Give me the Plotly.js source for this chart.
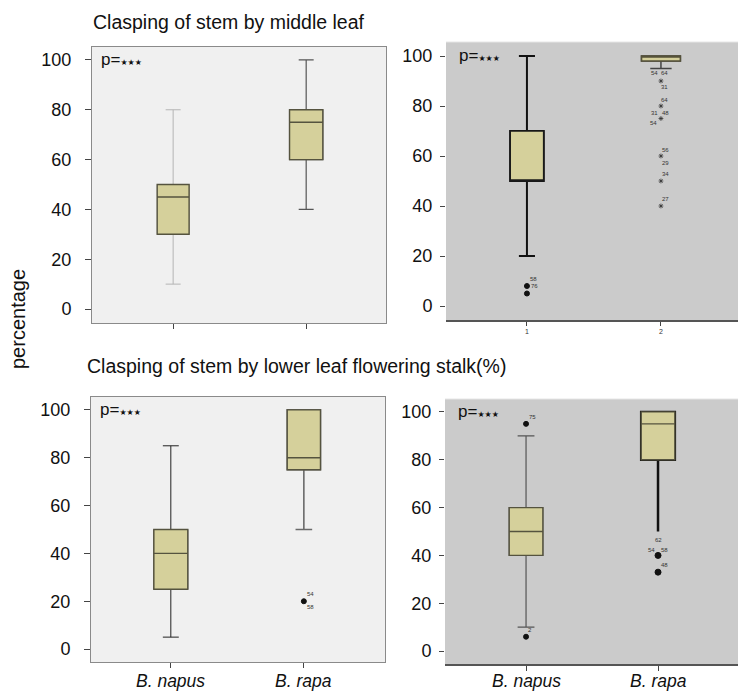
<!DOCTYPE html>
<html>
<head>
<meta charset="utf-8">
<script src="https://cdn.plot.ly/plotly-3.0.1.min.js"></script>
<style>html,body{margin:0;padding:0;background:#fff;}#chart{width:738px;height:691px;}</style>
</head>
<body>
<div id="chart"></div>
<script>
// ---------------- data ----------------
const categories = ['B. napus', 'B. rapa'];
const numericTicks = ['1', '2'];
const yTicks = [0, 20, 40, 60, 80, 100];
const titleTop = 'Clasping of stem by middle leaf';
const titleBottom = 'Clasping of stem by lower leaf flowering stalk(%)';
const yTitle = 'percentage';
const pText = 'p=';
const pStars = '★★★';

// top-left panel (per category)
const tlLower = [10, 40], tlQ1 = [30, 60], tlMedian = [45, 75], tlQ3 = [50, 80], tlUpper = [80, 100];
// top-right panel
const trLower = [20, 95], trQ1 = [50, 98], trMedian = [50, 100], trQ3 = [70, 100], trUpper = [100, 100];
const trOutCat1 = [8, 5];
const trOutCat2 = [90, 80, 75, 60, 50, 40];
// bottom-left panel
const blLower = [5, 50], blQ1 = [25, 75], blMedian = [40, 80], blQ3 = [50, 100], blUpper = [85, 100];
const blOutCat2 = [20];
// bottom-right panel
const brLower = [10, 50], brQ1 = [40, 80], brMedian = [50, 95], brQ3 = [60, 100], brUpper = [90, 100];
const brOutCat1 = [95, 6];
const brOutCat2 = [40, 33];

// outlier case labels: [panel, category index, value, text]
const caseLabels = [
  ['tr', 0, 8, '58'], ['tr', 0, 8, '76'],
  ['tr', 1, 90, '54'], ['tr', 1, 90, '64'], ['tr', 1, 90, '31'],
  ['tr', 1, 80, '64'], ['tr', 1, 80, '31'], ['tr', 1, 80, '48'],
  ['tr', 1, 75, '54'],
  ['tr', 1, 60, '56'], ['tr', 1, 60, '29'],
  ['tr', 1, 50, '34'], ['tr', 1, 40, '27'],
  ['bl', 1, 20, '54'], ['bl', 1, 20, '58'],
  ['br', 0, 95, '75'], ['br', 0, 6, '2'],
  ['br', 1, 40, '62'], ['br', 1, 40, '54'], ['br', 1, 40, '58'],
  ['br', 1, 33, '48']
];
// pixel offsets of each case label (style only)
const labelShift = [
  [7, 7], [8, 0],
  [-6, 8], [4, 8], [4, -6],
  [4, 6], [-6, -7], [5, -7],
  [-7, -5],
  [5, 6], [5, -7],
  [5, 7], [5, 7],
  [7, 7], [7, -6],
  [6, 7], [4, 7],
  [0, 15], [-7, 5], [6, 5],
  [6, 7]
];

// ---------------- style ----------------
const FONT = 'Liberation Sans, Arial, Helvetica, sans-serif';
const boxFill = '#d5d09b';
const boxLine = '#55533f';
const axesMap = { tl: ['x', 'y'], tr: ['x2', 'y2'], bl: ['x3', 'y3'], br: ['x4', 'y4'] };

const traces = [];
function addBox(panel, i, lo, q1, med, q3, hi, whiskColor, whiskW, capFrac, bw, boxLineColor, boxLineW) {
  const [xa, ya] = axesMap[panel];
  traces.push({
    type: 'box', xaxis: xa, yaxis: ya, x: [i],
    q1: [q1[i]], median: [med[i]], q3: [q3[i]], lowerfence: [lo[i]], upperfence: [hi[i]],
    width: bw, whiskerwidth: capFrac, boxpoints: false, fillcolor: 'rgba(0,0,0,0)',
    line: { color: whiskColor, width: whiskW }, hoverinfo: 'skip'
  });
  traces.push({
    type: 'box', xaxis: xa, yaxis: ya, x: [i],
    q1: [q1[i]], median: [med[i]], q3: [q3[i]], lowerfence: [q1[i]], upperfence: [q3[i]],
    width: bw, whiskerwidth: 0, boxpoints: false, fillcolor: boxFill,
    line: { color: boxLineColor || boxLine, width: boxLineW || 1.4 }, hoverinfo: 'skip'
  });
}

addBox('tl', 0, tlLower, tlQ1, tlMedian, tlQ3, tlUpper, '#b4b4b4', 1, 0.47, 0.24);
addBox('tl', 1, tlLower, tlQ1, tlMedian, tlQ3, tlUpper, '#555555', 1.2, 0.45, 0.25);
addBox('tr', 0, trLower, trQ1, trMedian, trQ3, trUpper, '#111111', 2, 0.48, 0.25, '#1a1a1a', 1.6);
addBox('tr', 1, trLower, trQ1, trMedian, trQ3, trUpper, '#444444', 1.5, 0.55, 0.29, '#55523a', 1.6);
addBox('bl', 0, blLower, blQ1, blMedian, blQ3, blUpper, '#222222', 1, 0.47, 0.255);
addBox('bl', 1, blLower, blQ1, blMedian, blQ3, blUpper, '#6a6a6a', 1.6, 0.5, 0.25);
addBox('br', 0, brLower, brQ1, brMedian, brQ3, brUpper, '#555555', 1.2, 0.5, 0.255);
addBox('br', 1, brLower, brQ1, brMedian, brQ3, brUpper, '#111111', 2.5, 0, 0.255);

function addPoints(panel, i, vals, symbol, size, color, lw) {
  const [xa, ya] = axesMap[panel];
  traces.push({
    type: 'scatter', mode: 'markers', xaxis: xa, yaxis: ya,
    x: vals.map(() => i), y: vals,
    marker: { symbol: symbol, size: size, color: color, line: { color: color, width: lw } },
    hoverinfo: 'skip'
  });
}
addPoints('tr', 0, trOutCat1, 'circle', 5, '#111', 1);
addPoints('tr', 1, trOutCat2, 'asterisk-open', 4, '#333', 0.8);
addPoints('bl', 1, blOutCat2, 'circle', 5, '#111', 1);
addPoints('br', 0, brOutCat1, 'circle', 5, '#111', 1);
addPoints('br', 1, brOutCat2, 'circle', 6, '#111', 1);

// ---------------- annotations ----------------
const annotations = [];
caseLabels.forEach((c, k) => {
  const [xa, ya] = axesMap[c[0]];
  annotations.push({
    xref: xa, yref: ya, x: c[1], y: c[2], text: c[3], showarrow: false,
    xshift: labelShift[k][0], yshift: labelShift[k][1],
    font: { family: FONT, size: 6, color: '#333' }
  });
});
const pPos = { tl: [0.025, 0.953], tr: [0.036, 0.95], bl: [0.025, 0.951], br: [0.038, 0.951] };
Object.keys(pPos).forEach(p => {
  const [xa, ya] = axesMap[p];
  annotations.push({
    xref: xa + ' domain', yref: ya + ' domain', x: pPos[p][0], y: pPos[p][1],
    xanchor: 'left', yanchor: 'middle', showarrow: false,
    text: pText + '<span style="font-size:8px;font-family:DejaVu Sans">' + pStars + '</span>',
    font: { family: FONT, size: 17, color: '#111' }
  });
});
annotations.push({
  xref: 'paper', yref: 'paper', x: 91 / 738, y: 1 - 22 / 691, xanchor: 'left', yanchor: 'middle',
  text: titleTop, showarrow: false, font: { family: FONT, size: 19.5, color: '#111' }
});
annotations.push({
  xref: 'paper', yref: 'paper', x: 85 / 738, y: 1 - 366 / 691, xanchor: 'left', yanchor: 'middle',
  text: titleBottom, showarrow: false, font: { family: FONT, size: 19.5, color: '#111' }
});
annotations.push({
  xref: 'paper', yref: 'paper', x: 18 / 738, y: 1 - 319 / 691, xanchor: 'center', yanchor: 'middle',
  text: yTitle, textangle: -90, showarrow: false, font: { family: FONT, size: 20, color: '#111' }
});
// category labels under the bottom panels
[['x3', 0.0], ['x4', 0.0]].forEach(([xa]) => {
  categories.forEach((c, i) => {
    annotations.push({
      xref: xa, yref: 'paper', x: i, y: 1 - 681 / 691, xanchor: 'center', yanchor: 'middle',
      text: '<i>' + c + '</i>', showarrow: false, font: { family: FONT, size: 17.5, color: '#111' }
    });
  });
});

// ---------------- layout ----------------
function yax(domain, range, opts) {
  return Object.assign({
    domain: domain, range: range, tickvals: yTicks, ticks: 'outside', ticklen: 6, tickcolor: '#444',
    showgrid: false, zeroline: false, fixedrange: true, tickfont: { family: FONT, size: 18, color: '#111' },
    ticklabelstandoff: 6
  }, opts);
}
function xax(domain, range, text, opts) {
  return Object.assign({
    domain: domain, range: range, tickvals: [0, 1], ticktext: text, ticks: 'outside', ticklen: 5,
    tickcolor: '#444', showgrid: false, zeroline: false, fixedrange: true
  }, opts);
}
const framed = { showline: true, mirror: true, linecolor: '#8a8a8a', linewidth: 1 };

const layout = {
  width: 738, height: 691, margin: { l: 0, r: 0, t: 0, b: 0 },
  paper_bgcolor: '#ffffff', plot_bgcolor: 'rgba(0,0,0,0)', showlegend: false, boxmode: 'overlay',
  font: { family: FONT, color: '#111' },
  xaxis: xax([92 / 738, 386 / 738], [-0.61, 1.6], ['', ''], Object.assign({ anchor: 'y' }, framed)),
  yaxis: yax([1 - 323 / 691, 1 - 47 / 691], [-5.6, 105.2], Object.assign({ anchor: 'x', ticklabelstandoff: 10 }, framed)),
  xaxis2: xax([446 / 738, 1], [-0.604, 1.575], numericTicks, {
    anchor: 'y2', showline: true, linecolor: '#555', linewidth: 1.5,
    tickfont: { family: FONT, size: 7, color: '#333333' }, ticklen: 4
  }),
  yaxis2: yax([1 - 320 / 691, 1 - 42 / 691], [-5.6, 105.6], { anchor: 'x2', showline: false, ticklen: 5, ticklabelstandoff: 4 }),
  xaxis3: xax([91 / 738, 385 / 738], [-0.60, 1.61], ['', ''], Object.assign({ anchor: 'y3' }, framed)),
  yaxis3: yax([1 - 662 / 691, 1 - 397 / 691], [-5.4, 105.4], Object.assign({ anchor: 'x3', ticklabelstandoff: 10 }, framed)),
  xaxis4: xax([445 / 738, 1], [-0.614, 1.606], ['', ''], {
    anchor: 'y4', showline: true, linecolor: '#555', linewidth: 1.5
  }),
  yaxis4: yax([1 - 664 / 691, 1 - 399 / 691], [-5.4, 105.4], { anchor: 'x4', showline: false, ticklen: 5, ticklabelstandoff: 4 }),
  shapes: [
    { type: 'rect', xref: 'x domain', yref: 'y domain', x0: 0, x1: 1, y0: 0, y1: 1, fillcolor: '#f0f0f0', line: { width: 0 }, layer: 'below' },
    { type: 'rect', xref: 'x2 domain', yref: 'y2 domain', x0: 0, x1: 1, y0: 0, y1: 1, fillcolor: '#cbcbcb', line: { width: 0 }, layer: 'below' },
    { type: 'rect', xref: 'x3 domain', yref: 'y3 domain', x0: 0, x1: 1, y0: 0, y1: 1, fillcolor: '#f0f0f0', line: { width: 0 }, layer: 'below' },
    { type: 'rect', xref: 'x4 domain', yref: 'y4 domain', x0: 0, x1: 1, y0: 0, y1: 1, fillcolor: '#cbcbcb', line: { width: 0 }, layer: 'below' },
    { type: 'line', xref: 'x2 domain', yref: 'y2 domain', x0: 0, x1: 1, y0: 1, y1: 1, line: { color: '#e6e6e6', width: 1 } },
    { type: 'line', xref: 'x4 domain', yref: 'y4 domain', x0: 0, x1: 1, y0: 1, y1: 1, line: { color: '#e6e6e6', width: 1 } }
  ],
  annotations: annotations
};

Plotly.newPlot('chart', traces, layout, { staticPlot: true, displayModeBar: false });
</script>
</body>
</html>
